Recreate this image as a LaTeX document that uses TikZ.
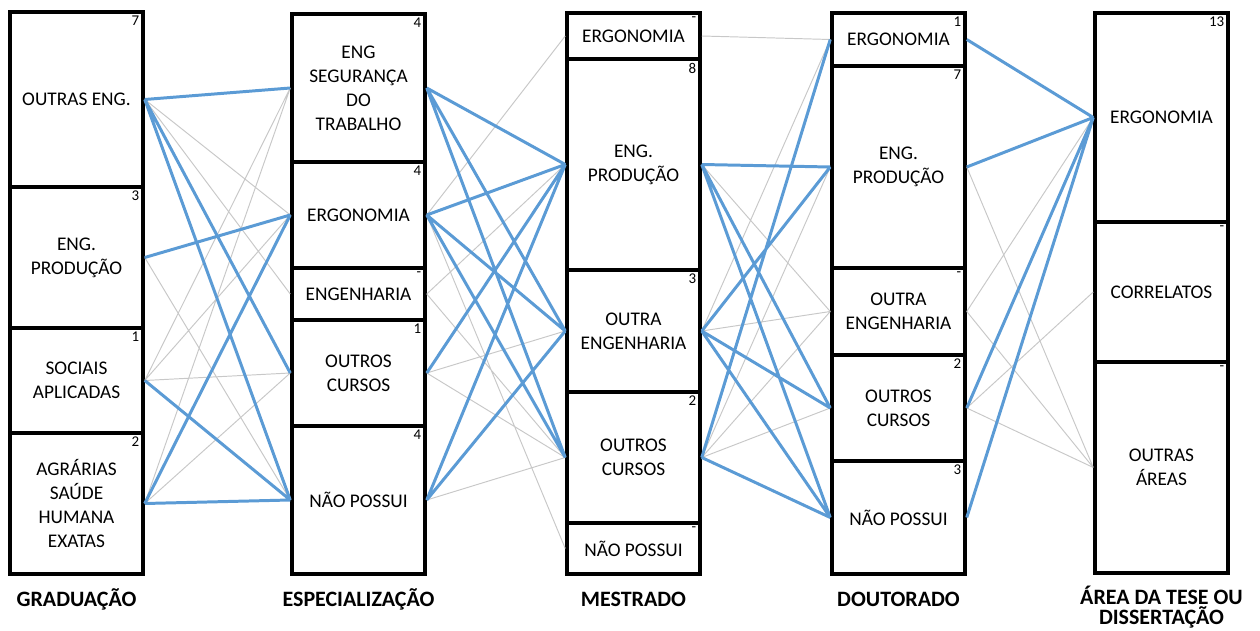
\documentclass[tikz,border=0pt]{standalone}
\usepackage{fontspec}
\setmainfont{Carlito}
\definecolor{linhaazul}{HTML}{5B9BD5}
\definecolor{linhacinza}{HTML}{C8C8C8}
\tikzset{
  caixa/.style={draw, line width=2pt, minimum width=2.66cm, inner sep=0pt,
    align=center, font=\fontsize{11}{13.6}\selectfont},
  num/.style={anchor=north east, inner sep=3pt, font=\fontsize{8.5}{9}\selectfont},
  titulo/.style={align=center, font=\bfseries\fontsize{12.5}{11}\selectfont},
  azul/.style={linhaazul, line width=1.7pt},
  cinza/.style={linhacinza, line width=0.55pt}
}
\begin{document}
\begin{tikzpicture}[x=0.02cm,y=-0.02cm]
\useasboundingbox (0,0) rectangle (1260,631);
% graduacao
\node[caixa, minimum height=3.5cm, label={[num]north east:7}] (gOutras) at (76.5,99.5) {OUTRAS ENG.};
\node[caixa, minimum height=2.82cm, label={[num]north east:3}] (gProd) at (76.5,257.5) {ENG.\\PRODUÇÃO};
\node[caixa, minimum height=2.1cm, label={[num]north east:1}] (gSociais) at (76.5,380.5) {SOCIAIS\\APLICADAS};
\node[caixa, minimum height=2.82cm, label={[num]north east:2}] (gAgrarias) at (76.5,503.5) {AGRÁRIAS\\SAÚDE\\HUMANA\\EXATAS};
% especializacao
\node[caixa, minimum height=2.96cm, label={[num]north east:4}] (eSeg) at (358.5,88) {ENG\\SEGURANÇA\\DO\\TRABALHO};
\node[caixa, minimum height=2.12cm, label={[num]north east:4}] (eErgo) at (358.5,215) {ERGONOMIA};
\node[caixa, minimum height=1.04cm, label={[num]north east:-}] (eEng) at (358.5,294) {ENGENHARIA};
\node[caixa, minimum height=2.12cm, label={[num]north east:1}] (eOutros) at (358.5,373) {OUTROS\\CURSOS};
\node[caixa, minimum height=2.96cm, label={[num]north east:4}] (eNao) at (358.5,500) {NÃO POSSUI};
% mestrado
\node[caixa, minimum height=0.92cm, label={[num]north east:-}] (mErgo) at (633.5,36) {ERGONOMIA};
\node[caixa, minimum height=4.22cm, label={[num]north east:8}] (mProd) at (633.5,164.5) {ENG.\\PRODUÇÃO};
\node[caixa, minimum height=2.44cm, label={[num]north east:3}] (mOutra) at (633.5,331) {OUTRA\\ENGENHARIA};
\node[caixa, minimum height=2.62cm, label={[num]north east:2}] (mOutros) at (633.5,457.5) {OUTROS\\CURSOS};
\node[caixa, minimum height=1.02cm, label={[num]north east:-}] (mNao) at (633.5,548.5) {NÃO POSSUI};
% doutorado
\node[caixa, minimum height=1.06cm, label={[num]north east:1}] (dErgo) at (898.5,39.5) {ERGONOMIA};
\node[caixa, minimum height=4.04cm, label={[num]north east:7}] (dProd) at (898.5,167) {ENG.\\PRODUÇÃO};
\node[caixa, minimum height=1.74cm, label={[num]north east:-}] (dOutra) at (898.5,311.5) {OUTRA\\ENGENHARIA};
\node[caixa, minimum height=2.12cm, label={[num]north east:2}] (dOutros) at (898.5,408) {OUTROS\\CURSOS};
\node[caixa, minimum height=2.26cm, label={[num]north east:3}] (dNao) at (898.5,517.5) {NÃO POSSUI};
% area da tese
\node[caixa, minimum height=4.18cm, label={[num]north east:13}] (aErgo) at (1161.5,117.5) {ERGONOMIA};
\node[caixa, minimum height=2.8cm, label={[num]north east:-}] (aCorr) at (1161.5,292) {CORRELATOS};
\node[caixa, minimum height=4.22cm, label={[num]north east:-}] (aOutras) at (1161.5,467.5) {OUTRAS\\ÁREAS};
% titulos
\node[titulo] (tGrad) at (76.5,599) {GRADUAÇÃO};
\node[titulo] (tEsp) at (358.5,599) {ESPECIALIZAÇÃO};
\node[titulo] (tMest) at (633.5,599) {MESTRADO};
\node[titulo] (tDout) at (898.5,599) {DOUTORADO};
\node[titulo, anchor=north, inner sep=0pt] (tArea) at (1161.5,586) {ÁREA DA TESE OU\\DISSERTAÇÃO};
% graduacao -> especializacao
\draw[cinza] (gOutras.east) -- (eErgo.west) (gOutras.east) -- (eEng.west)
  (gProd.east) -- (eNao.west)
  (gSociais.east) -- (eSeg.west) (gSociais.east) -- (eErgo.west) (gSociais.east) -- (eOutros.west)
  (gAgrarias.east) -- (eSeg.west) (gAgrarias.east) -- (eOutros.west);
\draw[azul] (gOutras.east) -- (eSeg.west) (gOutras.east) -- (eOutros.west) (gOutras.east) -- (eNao.west)
  (gProd.east) -- (eErgo.west)
  (gSociais.east) -- (eNao.west)
  (gAgrarias.east) -- (eErgo.west) (gAgrarias.east) -- (eNao.west);
% especializacao -> mestrado
\draw[cinza] (eErgo.east) -- (mErgo.west) (eErgo.east) -- (mNao.west)
  (eEng.east) -- (mProd.west) (eEng.east) -- (mOutros.west)
  (eOutros.east) -- (mOutra.west) (eOutros.east) -- (mOutros.west)
  (eNao.east) -- (mOutros.west);
\draw[azul] (eSeg.east) -- (mProd.west) (eSeg.east) -- (mOutra.west) (eSeg.east) -- (mOutros.west)
  (eErgo.east) -- (mProd.west) (eErgo.east) -- (mOutra.west) (eErgo.east) -- (mOutros.west)
  (eOutros.east) -- (mProd.west)
  (eNao.east) -- (mProd.west) (eNao.east) -- (mOutra.west);
% mestrado -> doutorado
\draw[cinza] (mErgo.east) -- (dErgo.west)
  (mProd.east) -- (dOutra.west)
  (mOutra.east) -- (dErgo.west) (mOutra.east) -- (dOutra.west)
  (mOutros.east) -- (dProd.west) (mOutros.east) -- (dOutra.west) (mOutros.east) -- (dOutros.west);
\draw[azul] (mProd.east) -- (dProd.west) (mProd.east) -- (dOutros.west) (mProd.east) -- (dNao.west)
  (mOutra.east) -- (dProd.west) (mOutra.east) -- (dOutros.west) (mOutra.east) -- (dNao.west)
  (mOutros.east) -- (dErgo.west) (mOutros.east) -- (dNao.west);
% doutorado -> area
\draw[cinza] (dProd.east) -- (aOutras.west)
  (dOutra.east) -- (aErgo.west) (dOutra.east) -- (aOutras.west)
  (dOutros.east) -- (aCorr.west) (dOutros.east) -- (aOutras.west);
\draw[azul] (dErgo.east) -- (aErgo.west) (dProd.east) -- (aErgo.west)
  (dOutros.east) -- (aErgo.west) (dNao.east) -- (aErgo.west);
\end{tikzpicture}
\end{document}
